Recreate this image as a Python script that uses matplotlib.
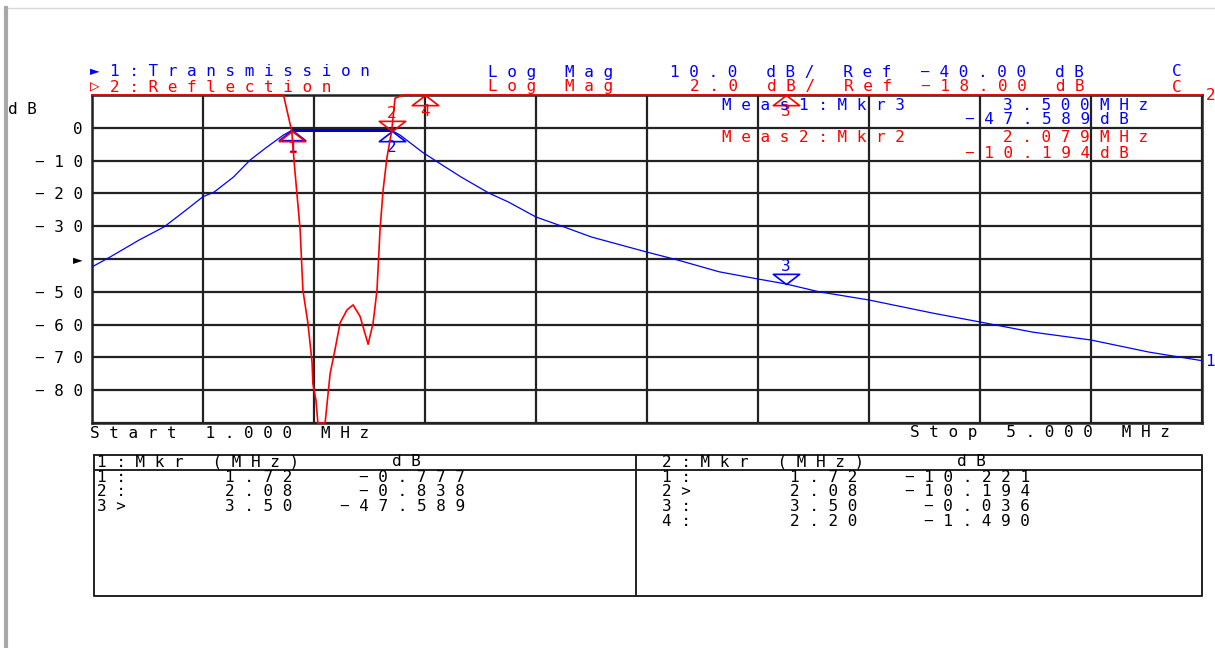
import numpy as np
import matplotlib.pyplot as plt
from matplotlib.path import Path
from matplotlib.lines import Line2D

plt.rcParams['font.family'] = ['DejaVu Sans Mono', 'DejaVu Sans']

# channel 1: transmission, Log Mag 10 dB/div, ref -40 dB
tx_freq = [1.00, 1.065, 1.17, 1.26, 1.34, 1.40, 1.44, 1.51, 1.57, 1.63, 1.69, 1.72,
           1.80, 1.90, 2.00, 2.08, 2.11, 2.19, 2.25, 2.33, 2.43, 2.50, 2.60, 2.70,
           2.80, 3.00, 3.11, 3.26, 3.40, 3.50, 3.62, 3.80, 4.03, 4.20, 4.39, 4.60,
           4.81, 5.00]
tx_db = [-42.4, -39.4, -34.2, -30.2, -25.0, -21.0, -19.6, -15.0, -9.8, -5.9, -2.2, -0.78,
         -0.75, -0.7, -0.75, -0.84, -2.2, -7.4, -10.7, -15.0, -19.9, -22.6, -27.2, -30.2,
         -33.3, -37.9, -40.3, -43.9, -46.1, -47.59, -50.0, -52.5, -56.5, -59.2, -62.3, -64.7,
         -68.4, -71.0]

# channel 2: reflection, Log Mag 2 dB/div, ref -18 dB
rf_freq = [1.00, 1.20, 1.40, 1.55, 1.62, 1.66, 1.69, 1.72, 1.73, 1.75, 1.76, 1.778,
           1.793, 1.796, 1.807, 1.814, 1.825, 1.84, 1.858, 1.876, 1.894, 1.919, 1.941,
           1.966, 1.995, 2.013, 2.027, 2.038, 2.049, 2.063, 2.08, 2.092, 2.12, 2.20,
           2.40, 2.80, 3.20, 3.50, 4.00, 4.50, 5.00]
rf_db = [-0.2, -0.3, -0.5, -1.2, -2.6, -4.8, -8.0, -10.22, -12.4, -16.2, -19.9, -21.9,
         -24.3, -25.6, -26.6, -28.0, -29.0, -28.1, -25.0, -23.5, -21.9, -21.1, -20.8,
         -21.5, -23.2, -21.9, -19.9, -16.2, -13.8, -11.8, -10.19, -8.2, -5.5, -1.49,
         -0.5, -0.15, -0.06, -0.036, -0.05, -0.08, -0.1]

# marker readouts
mkr1_freq = [1.72, 2.08, 3.50]
mkr1_db = [-0.777, -0.838, -47.589]
mkr1_active = 3
mkr2_freq = [1.72, 2.08, 3.50, 2.20]
mkr2_db = [-10.221, -10.194, -0.036, -1.490]
mkr2_active = 2

meas1 = ('Meas1:Mkr3', '3.500', '-47.589')
meas2 = ('Meas2:Mkr2', '2.079', '-10.194')

y_ticks = list(range(-90, 11, 10))
x_ticks = list(np.arange(1.0, 5.01, 0.4))

BLUE = '#0000ff'
RED = '#ff0000'
FS = 11.5


def sp(s):
    # analyzer font: fixed pitch, wide letter spacing
    return ' '.join(s.replace('-', '\u2212'))


fig = plt.figure(figsize=(12.15, 6.48), dpi=100)
W, H = 1215, 648
ax = fig.add_axes([92 / W, 1 - 423 / H, 1110 / W, 328 / H])
ax.set_xlim(1, 5)
ax.set_ylim(-90, 10)
ax.set_xticks(x_ticks)
ax.set_xticklabels([])
ax.set_yticks(y_ticks)
ylabels = []
for t in y_ticks:
    if t in (10, -90):
        ylabels.append('')
    elif t == -40:
        ylabels.append('\u25ba')
    else:
        ylabels.append(sp(str(t)))
ax.set_yticklabels(ylabels, fontsize=FS)
ax.tick_params(length=0, pad=6.5)
ax.grid(True, color='#222222', lw=1.6)
for s in ax.spines.values():
    s.set_color('#222222')
    s.set_linewidth(1.8)

ax2 = ax.twinx()
ax2.set_ylim(-28, -8)
ax2.axis('off')

# traces
ax.plot(tx_freq, tx_db, color=BLUE, lw=0.9, zorder=3)
ax.plot([mkr1_freq[0], mkr1_freq[1]], [-0.8, -0.8], color='#0000c8', lw=2.2, zorder=3)
ax2.plot(rf_freq, np.clip(rf_db, -28, -8), color=RED, lw=1.2, clip_on=False, zorder=4)

tri_below = Path([(0, 0), (-1.3, -1), (1.3, -1), (0, 0)], closed=True)
tri_above = Path([(0, 0), (-1.3, 1), (1.3, 1), (0, 0)], closed=True)


def draw_markers(a, freqs, vals, active, color, lo, hi):
    for i, (f, v) in enumerate(zip(freqs, vals), start=1):
        v = min(max(v, lo), hi)
        if i == active:
            mk, dy = tri_above, 17
        else:
            mk, dy = tri_below, -17
        a.plot([f], [v], marker=mk, ms=19, mfc='none', mec=color, mew=1.2,
               ls='none', clip_on=False, zorder=6)
        a.annotate(str(i), (f, v), xytext=(0, dy), textcoords='offset pixels',
                   ha='center', va='center', color=color, fontsize=FS,
                   annotation_clip=False, zorder=6)


draw_markers(ax, mkr1_freq, mkr1_db, mkr1_active, BLUE, -90, 10)
draw_markers(ax2, mkr2_freq, mkr2_db, mkr2_active, RED, -28, -8)

# overlay in pixel coordinates for the screen annotations
ov = fig.add_axes([0, 0, 1, 1], zorder=10)
ov.set_xlim(0, W)
ov.set_ylim(H, 0)
ov.axis('off')


def put(x, y, s, color='black', ha='left'):
    ov.text(x, y, sp(s), color=color, ha=ha, va='center', fontsize=FS)


# window frame
ov.add_line(Line2D([6, 6], [8, H], color='#a8a8a8', lw=3))
ov.add_line(Line2D([8, W], [8, 8], color='#d8d8d8', lw=1))

# header
ov.text(90, 72, '\u25ba', color=BLUE, ha='left', va='center', fontsize=FS)
put(110, 72, '1:Transmission', BLUE)
ov.text(90, 87, '\u25b7', color=RED, ha='left', va='center', fontsize=FS)
put(110, 87, '2:Reflection', RED)
put(488, 72, 'Log Mag', BLUE)
put(488, 87, 'Log Mag', RED)
put(670, 72, '10.0 dB/ Ref -40.00 dB', BLUE)
put(690, 87, '2.0 dB/ Ref -18.00 dB', RED)
put(1172, 72, 'C', BLUE)
put(1172, 87, 'C', RED)
put(8, 110, 'dB')

# measurement readouts
put(722, 105, meas1[0], BLUE)
put(1090, 105, meas1[1], BLUE, ha='right')
put(1100, 105, 'MHz', BLUE)
put(1090, 120, meas1[2], BLUE, ha='right')
put(1100, 120, 'dB', BLUE)
put(722, 138, meas2[0], RED)
put(1090, 138, meas2[1], RED, ha='right')
put(1100, 138, 'MHz', RED)
put(1090, 153, meas2[2], RED, ha='right')
put(1100, 153, 'dB', RED)

# trace end labels
ov.text(1205, 362, '1', color=BLUE, ha='left', va='center', fontsize=FS)
ov.text(1206, 95, '2', color=RED, ha='left', va='center', fontsize=FS)

put(90, 433, 'Start 1.000 MHz')
put(910, 433, 'Stop 5.000 MHz')

# marker tables
for xs, ys in [([94, 1202, 1202, 94, 94], [455, 455, 596, 596, 455]),
               ([636, 636], [455, 596]),
               ([94, 1202], [470, 470])]:
    ov.add_line(Line2D(xs, ys, color='#222222', lw=1.4))


def table(x0, ch, freqs, vals, active):
    put(x0, 462, f'{ch}:Mkr (MHz)', 'black')
    put(x0 + 295, 462, 'dB', 'black')
    for i, (f, v) in enumerate(zip(freqs, vals), start=1):
        y = 477 + (i - 1) * 14.7
        put(x0, y, f'{i}>' if i == active else f'{i}:')
        put(x0 + 195, y, f'{f:.2f}', ha='right')
        put(x0 + 368, y, f'{v:.3f}', ha='right')


table(97, 1, mkr1_freq, mkr1_db, mkr1_active)
table(662, 2, mkr2_freq, mkr2_db, mkr2_active)

fig.savefig('out.png', dpi=100, facecolor='white')
